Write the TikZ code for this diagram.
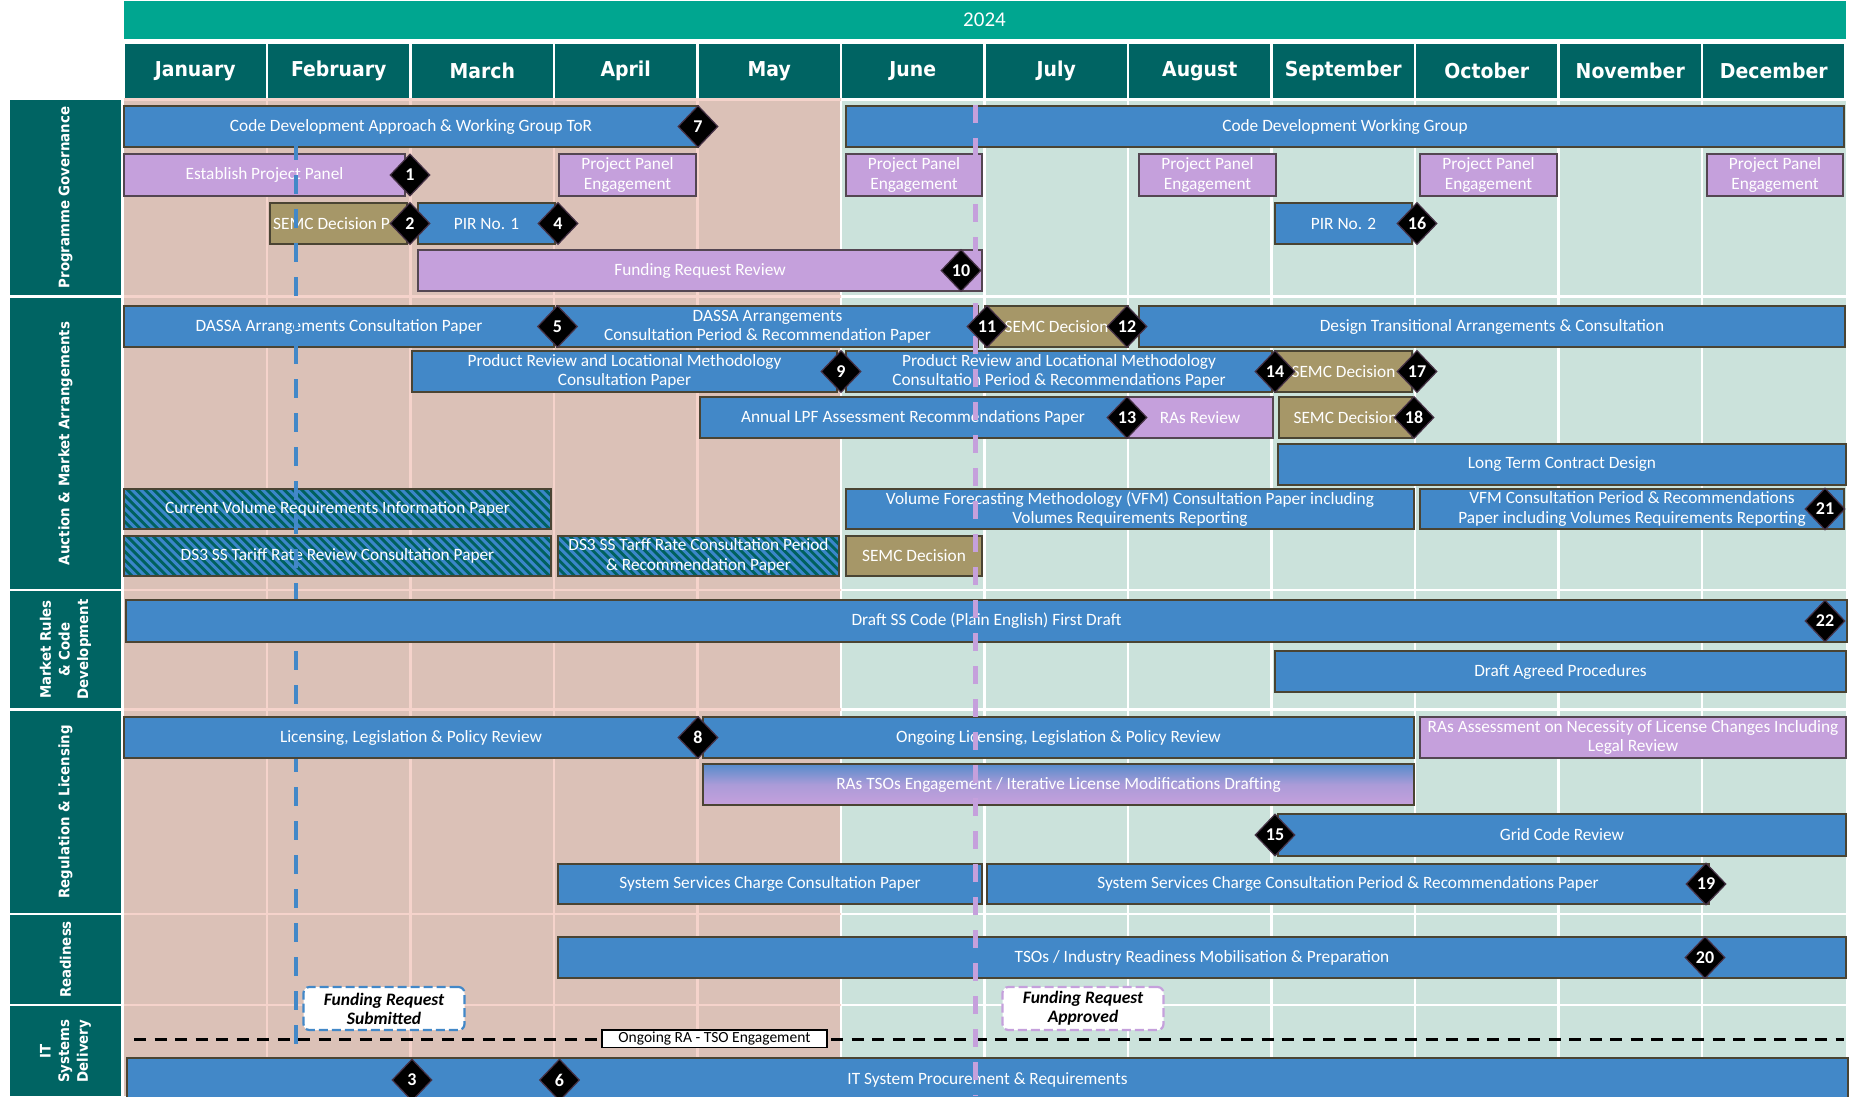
\documentclass[tikz,border=0pt]{standalone}
\usepackage{fontspec}
\setmainfont{Carlito}
\newfontfamily\hdrfont[FakeStretch=0.92]{DejaVu Sans}
\usetikzlibrary{shapes.geometric}
\definecolor{yearteal}{RGB}{0,166,144}
\definecolor{darkteal}{RGB}{0,100,99}
\definecolor{pinkbg}{RGB}{219,193,183}
\definecolor{greenbg}{RGB}{203,226,219}
\definecolor{pinkline}{RGB}{245,211,203}
\definecolor{barblue}{RGB}{66,136,200}
\definecolor{barpurple}{RGB}{197,160,220}
\definecolor{barolive}{RGB}{166,151,104}
\definecolor{bordc}{RGB}{74,68,51}
\definecolor{pbordc}{RGB}{84,70,82}
\definecolor{hatchteal}{RGB}{0,97,94}
\definecolor{hatchblue}{RGB}{59,134,201}
\definecolor{msbord}{RGB}{70,50,70}
\newcommand\bartextfont{\fontsize{17.3}{19.3}\selectfont}
\newcommand\mstextfont{\fontsize{18}{18}\selectfont\bfseries}
\newcommand\seclabelfont{\hdrfont\fontsize{14.5}{18.6}\selectfont\bfseries}
\newcommand\monthfont{\hdrfont\fontsize{20.5}{20.5}\selectfont\bfseries}
\newcommand\calloutfont{\fontsize{17.5}{19}\selectfont\bfseries\itshape}
\tikzset{
  taskbar/.style={draw=bordc, line width=1.8pt, fill=barblue, text=white, inner sep=0pt, align=center, font=\bartextfont},
  ptask/.style={taskbar, fill=barpurple, draw=pbordc},
  otask/.style={taskbar, fill=barolive},
  gtask/.style={taskbar, top color=barblue!85!barpurple, bottom color=barpurple, middle color=barpurple!80!barblue},
  msdia/.style={diamond, fill=black, draw=msbord, line width=1.2pt, text=white, inner sep=0pt, minimum width=40, minimum height=42, font=\mstextfont},
  secbox/.style={fill=darkteal, text=white, rotate=90, inner sep=0pt, align=center, font=\seclabelfont},
  mhead/.style={fill=darkteal, text=white, minimum width=141, minimum height=54, inner sep=0pt, font=\monthfont},
  callout/.style={fill=white, rounded corners=6pt, line width=2.2pt, dash pattern=on 9pt off 4pt, minimum width=161, minimum height=43, inner sep=0pt, align=center, font=\calloutfont, text=black},
  gridpink/.style={pinkline, line width=2.5pt},
  gridwhite/.style={white, line width=2.5pt}
}
\newcommand\ganttbar[7]{\node[#2, minimum width={#5-#3}, minimum height={#6-#4}] (#1) at ({(#3+#5)/2},{(#4+#6)/2}) {#7};}
\newcommand\hatchbar[6]{%
  \begin{scope}
    \clip (#2,#3) rectangle (#4,#5);
    \fill[hatchteal] (#2,#3) rectangle (#4,#5);
    \foreach \k in {0,...,60}{\draw[hatchblue, line width=3pt] ({#2-47+\k*8.7},{#3-2}) -- ++(47,47);}
  \end{scope}
  \node[taskbar, fill=none, minimum width={#4-#2}, minimum height={#5-#3}] (#1) at ({(#2+#4)/2},{(#3+#5)/2}) {#6};}
\begin{document}
\begin{tikzpicture}[x=1pt, y=-1pt]
\useasboundingbox (0,0) rectangle (1851,1096);
\fill[white] (0,0) rectangle (1851,1096);
% body background
\fill[pinkbg] (123.5,99) rectangle (841,1096);
\fill[greenbg] (841,99) rectangle (1845.5,1096);
\foreach \mx in {267,410.5,554,697.5} \draw[gridpink] (\mx,99) -- (\mx,1096);
\foreach \mx in {841,984.5,1128,1271.5,1415,1558.5,1702} \draw[gridwhite] (\mx,99) -- (\mx,1096);
\foreach \yy in {99.5,296.5,590,709.5,914,1005} {\draw[gridpink] (123.5,\yy) -- (841,\yy); \draw[gridwhite] (841,\yy) -- (1845.5,\yy);}
% year + months
\node[fill=yearteal, text=white, minimum width=1722, minimum height=38, inner sep=0pt, font=\fontsize{21}{21}\selectfont] (yr) at (984.5,19.5) {2024};
\foreach \m [count=\i from 0] in {January,February,March,April,May,June,July,August,September,October,November,December}
  \node[mhead] (mon\i) at ({123.5+143.5*\i+71.75},71) {\m};
% section labels
\node[secbox, minimum width=195, minimum height=111] (sPG) at (65.5,197.5) {Programme Governance};
\node[secbox, minimum width=291, minimum height=111] (sAMA) at (65.5,443.5) {Auction \& Market Arrangements};
\node[secbox, minimum width=117, minimum height=111] (sMR) at (65.5,649.5) {Market Rules\\\& Code\\Development};
\node[secbox, minimum width=202, minimum height=111] (sRL) at (65.5,812) {Regulation \& Licensing};
\node[secbox, minimum width=89, minimum height=111] (sRD) at (65.5,959.5) {Readiness};
\node[secbox, minimum width=90, minimum height=111] (sIT) at (65.5,1051) {IT\\Systems\\Delivery};
% Programme Governance
\ganttbar{cdap}{taskbar}{124}{106}{698}{147}{Code Development Approach \& Working Group ToR}
\ganttbar{cdwg}{taskbar}{846}{106}{1844}{147}{Code Development Working Group}
\ganttbar{epp}{ptask}{124}{154}{405}{196}{Establish Project Panel}
\ganttbar{ppe1}{ptask}{559}{154}{696}{196}{Project Panel\\Engagement}
\ganttbar{ppe2}{ptask}{846}{154}{982}{196}{Project Panel\\Engagement}
\ganttbar{ppe3}{ptask}{1139}{154}{1276}{196}{Project Panel\\Engagement}
\ganttbar{ppe4}{ptask}{1420}{154}{1557}{196}{Project Panel\\Engagement}
\ganttbar{ppe5}{ptask}{1707}{154}{1843}{196}{Project Panel\\Engagement}
\ganttbar{semc0}{otask}{270}{203}{407}{244}{}
\node[text=white, font=\bartextfont, anchor=west, inner sep=0pt] (semc0t) at (273,223.5) {SEMC Decision P};
\ganttbar{pir1}{taskbar}{418}{203}{555}{244}{PIR No. 1}
\ganttbar{pir2}{taskbar}{1275}{203}{1412}{244}{PIR No. 2}
\ganttbar{frr}{ptask}{418}{250}{982}{291}{Funding Request Review}
% Auction & Market Arrangements
\ganttbar{dassa1}{taskbar}{124}{306}{554}{347}{DASSA Arrangements Consultation Paper}
\ganttbar{dassa2}{taskbar}{557}{306}{978}{347}{DASSA Arrangements\\Consultation Period \& Recommendation Paper}
\ganttbar{semc1}{otask}{985}{306}{1128}{347}{SEMC Decision}
\ganttbar{dta}{taskbar}{1139}{306}{1845}{347}{Design Transitional Arrangements \& Consultation}
\ganttbar{prl1}{taskbar}{412}{351}{837}{392}{Product Review and Locational Methodology\\Consultation Paper}
\ganttbar{prl2}{taskbar}{846}{351}{1272}{392}{Product Review and Locational Methodology\\Consultation Period \& Recommendations Paper}
\ganttbar{semc2}{otask}{1275}{351}{1412}{392}{SEMC Decision}
\ganttbar{lpf}{taskbar}{700}{397}{1126}{438}{Annual LPF Assessment Recommendations Paper}
\ganttbar{rasrev}{ptask}{1127}{397}{1273}{438}{RAs Review}
\ganttbar{semc3}{otask}{1279}{397}{1412}{438}{SEMC Decision}
\ganttbar{ltcd}{taskbar}{1278}{444}{1846}{485}{Long Term Contract Design}
\hatchbar{cvr}{124}{489}{551}{529}{Current Volume Requirements Information Paper}
\ganttbar{vfm1}{taskbar}{846}{489}{1414}{529}{Volume Forecasting Methodology (VFM) Consultation Paper including\\Volumes Requirements Reporting}
\ganttbar{vfm2}{taskbar}{1420}{489}{1844}{529}{VFM Consultation Period \& Recommendations\\Paper including Volumes Requirements Reporting}
\hatchbar{ds3a}{124}{536}{551}{576}{DS3 SS Tariff Rate Review Consultation Paper}
\hatchbar{ds3b}{558}{536}{839}{576}{DS3 SS Tarff Rate Consultation Period\\\& Recommendation Paper}
\ganttbar{semc4}{otask}{846}{536}{982}{576}{SEMC Decision}
% blue dashed marker line (under the later full-width bars)
\coordinate (bl1) at (296,146);
\coordinate (bl2) at (296,1058);
\draw[barblue, line width=4.5pt, dash pattern=on 19pt off 15pt, dash phase=5pt] (bl1) -- (bl2);
% Market Rules & Code Development
\ganttbar{draft}{taskbar}{126}{600}{1847}{642}{Draft SS Code (Plain English) First Draft}
\ganttbar{dap}{taskbar}{1275}{651}{1846}{692}{Draft Agreed Procedures}
% Regulation & Licensing
\ganttbar{llp}{taskbar}{124}{717}{698}{758}{Licensing, Legislation \& Policy Review}
\ganttbar{ollp}{taskbar}{703}{717}{1414}{758}{Ongoing Licensing, Legislation \& Policy Review}
\ganttbar{rasa}{ptask}{1420}{717}{1846}{758}{RAs Assessment on Necessity of License Changes Including\\Legal Review}
\ganttbar{rastso}{gtask}{703}{764}{1414}{805}{RAs TSOs Engagement / Iterative License Modifications Drafting}
\ganttbar{gcr}{taskbar}{1278}{814}{1846}{856}{Grid Code Review}
\ganttbar{ssc1}{taskbar}{558}{864}{982}{904}{System Services Charge Consultation Paper}
\ganttbar{ssc2}{taskbar}{987}{864}{1709}{904}{System Services Charge Consultation Period \& Recommendations Paper}
% Readiness
\ganttbar{tsor}{taskbar}{558}{937}{1846}{978}{TSOs / Industry Readiness Mobilisation \& Preparation}
% IT Systems Delivery
\ganttbar{itsp}{taskbar}{127}{1058}{1848}{1102}{IT System Procurement \& Requirements}
% dashed lines
\coordinate (hl1) at (134,1039.3);
\coordinate (hl2) at (1844,1039.3);
\draw[black, line width=3pt, dash pattern=on 12pt off 8.5pt] (hl1) -- (hl2);
\node[draw=black, fill=white, line width=1.5pt, minimum width=225, minimum height=17.5, inner sep=0pt, text=black, font=\fontsize{15.5}{15.5}\selectfont] (ogl) at (714.5,1038.6) {Ongoing RA - TSO Engagement};
\coordinate (pl1) at (975.5,105);
\coordinate (pl2) at (975.5,1096);
\draw[barpurple, line width=4.5pt, dash pattern=on 18pt off 15pt] (pl1) -- (pl2);
% milestones
\node[msdia] (d1) at (410,175) {1};
\node[msdia] (d2) at (410,223.5) {2};
\node[msdia] (d3) at (412,1080) {3};
\node[msdia] (d4) at (558,223.5) {4};
\node[msdia] (d5) at (557.5,326.5) {5};
\node[msdia] (d6) at (559.5,1080) {6};
\node[msdia] (d7) at (698,126.5) {7};
\node[msdia] (d8) at (698,737.5) {8};
\node[msdia] (d9) at (841,371.5) {9};
\node[msdia] (d10) at (961,270.5) {10};
\node[msdia] (d11) at (987,326.5) {11};
\node[msdia] (d12) at (1127,326.5) {12};
\node[msdia] (d13) at (1127,417.5) {13};
\node[msdia] (d14) at (1275,371.5) {14};
\node[msdia] (d15) at (1275,835) {15};
\node[msdia] (d16) at (1417,223.5) {16};
\node[msdia] (d17) at (1417,371.5) {17};
\node[msdia] (d18) at (1414,417.5) {18};
\node[msdia] (d19) at (1706,884) {19};
\node[msdia] (d20) at (1705,957.5) {20};
\node[msdia] (d21) at (1825,509) {21};
\node[msdia] (d22) at (1825,621) {22};
% callouts
\node[callout, draw=barblue] (fsub) at (384,1008.5) {Funding Request\\Submitted};
\node[callout, draw=barpurple] (fapp) at (1083,1008.5) {Funding Request\\Approved};
\end{tikzpicture}
\end{document}
